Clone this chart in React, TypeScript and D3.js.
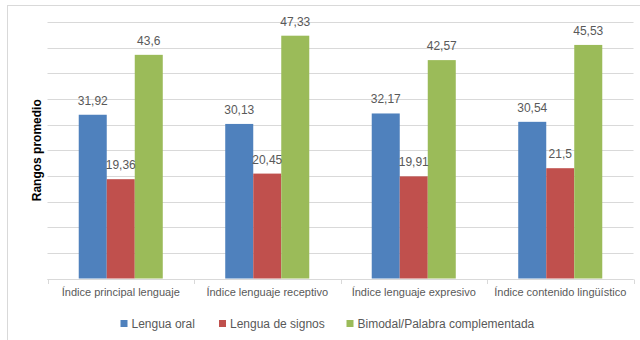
import React from "react";
import * as d3 from "d3";

// Category labels along the x axis
const categories = [
  "Índice principal lenguaje",
  "Índice lenguaje receptivo",
  "Índice lenguaje expresivo",
  "Índice contenido lingüístico",
];

// Series names (legend order)
const seriesNames = ["Lengua oral", "Lengua de signos", "Bimodal/Palabra complementada"];

// Mean ranks per series, one value per category
const lenguaOral = [31.92, 30.13, 32.17, 30.54];
const lenguaSignos = [19.36, 20.45, 19.91, 21.5];
const bimodal = [43.6, 47.33, 42.57, 45.53];

// Value axis: gridlines every 5 up to 50
const yTicks = [0, 5, 10, 15, 20, 25, 30, 35, 40, 45, 50];

const seriesValues = [lenguaOral, lenguaSignos, bimodal];
const colors = ["#4F81BD", "#C0504D", "#9BBB59"];

const W = 640;
const H = 340;
const FONT = "'Liberation Sans', Arial, sans-serif";

const fmt = (v: number) => String(v).replace(".", ",");

export default function App() {
  const x0 = d3.scaleBand<string>().domain(categories).range([47.5, 633.5]).paddingInner(0).paddingOuter(0);
  const x1 = d3
    .scaleBand<string>()
    .domain(seriesNames)
    .range([0, x0.bandwidth()])
    .paddingInner(0)
    .paddingOuter(1.115);
  const y = d3.scaleLinear().domain([0, 50]).range([278.5, 22]);

  const baseline = y(0);
  const boundaries = [...categories.map((c) => x0(c) as number), (x0(categories[categories.length - 1]) as number) + x0.bandwidth()];

  const legendX = [120.5, 219, 346.5];

  return (
    <svg
      width={W}
      height={H}
      style={{ position: "absolute", left: 0, top: 0, background: "#fff" }}
      fontFamily={FONT}
    >
      <rect x={0} y={0} width={W} height={H} fill="#fff" />
      {/* chart frame */}
      <rect x={7.5} y={5.5} width={W + 20} height={H + 20} fill="none" stroke="#D9D9D9" strokeWidth={1} />

      {/* horizontal gridlines */}
      {yTicks.map((t) => (
        <line
          key={t}
          x1={x0.range()[0]}
          x2={x0.range()[1]}
          y1={Math.round(y(t)) + 0.5}
          y2={Math.round(y(t)) + 0.5}
          stroke="#D9D9D9"
          strokeWidth={1}
        />
      ))}

      {/* bars */}
      {categories.map((c, ci) => (
        <g key={c} transform={`translate(${x0(c)},0)`}>
          {seriesNames.map((s, si) => {
            const v = seriesValues[si][ci];
            return (
              <rect
                key={s}
                x={x1(s)}
                y={y(v)}
                width={x1.bandwidth()}
                height={baseline - y(v)}
                fill={colors[si]}
              />
            );
          })}
        </g>
      ))}

      {/* category axis */}
      <line
        x1={x0.range()[0]}
        x2={x0.range()[1]}
        y1={Math.round(baseline) + 0.5}
        y2={Math.round(baseline) + 0.5}
        stroke="#D9D9D9"
      />
      {boundaries.map((b, i) => (
        <line
          key={i}
          x1={Math.round(b) + 0.5}
          x2={Math.round(b) + 0.5}
          y1={Math.round(baseline) + 0.5}
          y2={Math.round(baseline) + 5}
          stroke="#D9D9D9"
        />
      ))}

      {/* data labels */}
      {categories.map((c, ci) =>
        seriesNames.map((s, si) => {
          const v = seriesValues[si][ci];
          return (
            <text
              key={`${c}-${s}`}
              x={(x0(c) as number) + (x1(s) as number) + x1.bandwidth() / 2}
              y={y(v) - 10}
              textAnchor="middle"
              fontSize={12}
              fill="#595959"
            >
              {fmt(v)}
            </text>
          );
        })
      )}

      {/* category labels */}
      {categories.map((c) => (
        <text
          key={c}
          x={(x0(c) as number) + x0.bandwidth() / 2}
          y={296}
          textAnchor="middle"
          fontSize={11}
          fill="#595959"
        >
          {c}
        </text>
      ))}

      {/* y axis title */}
      <text
        transform={`translate(40.5, ${(y(0) + y(50)) / 2}) rotate(-90)`}
        textAnchor="middle"
        fontSize={12}
        fontWeight="bold"
        fill="#000"
      >
        Rangos promedio
      </text>

      {/* legend */}
      {seriesNames.map((s, i) => (
        <g key={s} transform={`translate(${legendX[i]},0)`}>
          <rect x={0} y={320} width={7} height={7} fill={colors[i]} />
          <text x={11} y={327.5} fontSize={12} fill="#595959">
            {s}
          </text>
        </g>
      ))}
    </svg>
  );
}
